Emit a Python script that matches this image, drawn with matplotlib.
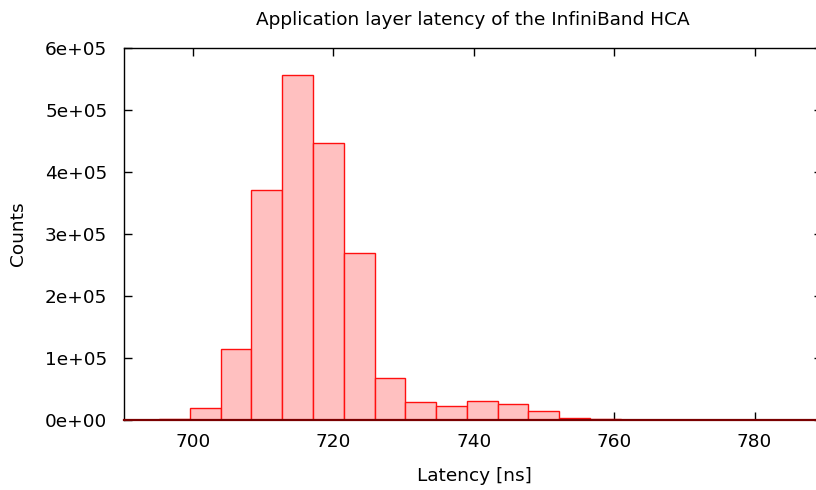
import matplotlib
matplotlib.use("Agg")
import matplotlib.pyplot as plt
from matplotlib.ticker import FuncFormatter

# Histogram data (latency in ns, counts per bin)
bin_start = 690.78
bin_width = 4.385
counts = [0, 1600, 20500, 114800, 371700, 556500, 448000, 270500, 67600,
          30000, 23500, 31000, 25700, 15000, 4200, 1600, 600, 200, 100,
          50, 30, 20, 10]
bin_left = [bin_start + i * bin_width for i in range(len(counts))]

x_ticks = [700, 720, 740, 760, 780]
y_ticks = [0, 100000, 200000, 300000, 400000, 500000, 600000]

title = "Application layer latency of the InfiniBand HCA"
xlabel = "Latency [ns]"
ylabel = "Counts"

plt.rcParams['font.family'] = ['DejaVu Sans']
fs = 13.3

fig = plt.figure(figsize=(8.16, 4.90), dpi=100)
W, H = 816, 490
left, right, top, bottom = 124, 822, 48.3, 420.3
ax = fig.add_axes([left / W, 1 - bottom / H, (right - left) / W, (bottom - top) / H])

ax.bar(bin_left, counts, width=bin_width, align='edge',
       facecolor='#ffc0c0', edgecolor='#ff1010', linewidth=1.0, zorder=2)

ax.set_xlim(690.17, 789.6)
ax.set_ylim(0, 600000)
ax.set_xticks(x_ticks)
ax.set_yticks(y_ticks)
ax.yaxis.set_major_formatter(FuncFormatter(lambda v, p: "%de+05" % round(v / 1e5) if v else "0e+00"))

ax.tick_params(direction='in', length=6, width=1, top=True, right=True,
               labelsize=fs, colors='black')
ax.tick_params(axis='y', pad=12)
ax.tick_params(axis='x', pad=9)
for s in ax.spines.values():
    s.set_linewidth(1.0)
    s.set_color('black')
ax.spines['bottom'].set_color('#7a0000')
ax.spines['bottom'].set_linewidth(1.6)

fig.text(473 / W, 1 - 20 / H, title, ha='center', va='center', fontsize=fs)
fig.text(474 / W, 1 - 476 / H, xlabel, ha='center', va='center', fontsize=fs)
fig.text(18 / W, 1 - 234 / H, ylabel, ha='center', va='center', rotation=90, fontsize=fs)

fig.savefig("out.png", dpi=100)
